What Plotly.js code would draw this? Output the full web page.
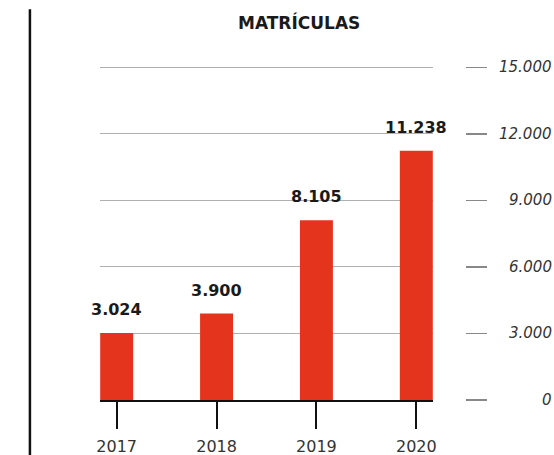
<!DOCTYPE html>
<html>
<head>
<meta charset="utf-8">
<script src="https://cdn.plot.ly/plotly-3.0.1.min.js"></script>
<style>html,body{margin:0;padding:0;background:#fff;}#chart{width:554px;height:455px;}</style>
</head>
<body>
<div id="chart"></div>
<script>
const years = [2017, 2018, 2019, 2020];
const matriculas = [3024, 3900, 8105, 11238];
const yTickVals = [0, 3000, 6000, 9000, 12000, 15000];
const yTickText = ['0', '3.000', '6.000', '9.000', '12.000', '15.000'];
const chartTitle = 'MATRÍCULAS';

const FONT = 'DejaVu Sans';

const trace = {
  type: 'bar',
  x: years,
  y: matriculas,
  width: 0.33,
  marker: {color: '#E5341D'},
  hoverinfo: 'skip'
};

const valueLabels = years.map((yr, i) => ({
  xref: 'x', yref: 'y', x: yr, y: matriculas[i],
  text: '<b>' + matriculas[i].toLocaleString('de-DE') + '</b>',
  showarrow: false, xanchor: 'center', yanchor: 'bottom', yshift: 12,
  font: {family: FONT, size: 16, color: '#1a1a1a'}
}));

const tickLabels = yTickVals.map((v, i) => ({
  xref: 'paper', yref: 'y', x: 1.243, y: v,
  text: yTickText[i],
  showarrow: false, xanchor: 'right', yanchor: 'middle',
  font: {family: FONT, size: 15, color: '#333', style: 'italic'}
}));

const layout = {
  width: 554, height: 455,
  margin: {l: 100, r: 89, t: 66, b: 55},
  paper_bgcolor: '#fff', plot_bgcolor: '#fff',
  separators: ',.',
  showlegend: false,
  title: {text: '<b>' + chartTitle + '</b>', x: 0.54, xanchor: 'center', y: 0.95, yanchor: 'middle',
          font: {family: FONT, size: 17, color: '#1a1a1a'}},
  xaxis: {
    type: 'linear', domain: [0, 0.9123],
    range: [2016.833, 2020.167],
    tickvals: years, ticktext: years.map(String),
    ticks: 'outside', ticklen: 27, tickwidth: 2, tickcolor: '#111',
    ticklabelstandoff: 4,
    showline: true, linecolor: '#111', linewidth: 2,
    showgrid: false, zeroline: false,
    tickfont: {family: FONT, size: 16, color: '#333'}
  },
  yaxis: {
    range: [0, 15060], anchor: 'free', position: 1, side: 'right',
    tickvals: yTickVals, showticklabels: false,
    ticks: 'outside', ticklen: 21, tickwidth: 1.5, tickcolor: '#888',
    showline: false, showgrid: true, gridcolor: '#b0b0b0', gridwidth: 1,
    zeroline: false
  },
  annotations: valueLabels.concat(tickLabels),
  shapes: [{type: 'line', xref: 'paper', yref: 'paper', x0: -0.192, x1: -0.192, y0: 1.17, y1: -0.2,
            line: {color: '#111', width: 2.5}}]
};

Plotly.newPlot('chart', [trace], layout, {displayModeBar: false, staticPlot: true});
</script>
</body>
</html>
